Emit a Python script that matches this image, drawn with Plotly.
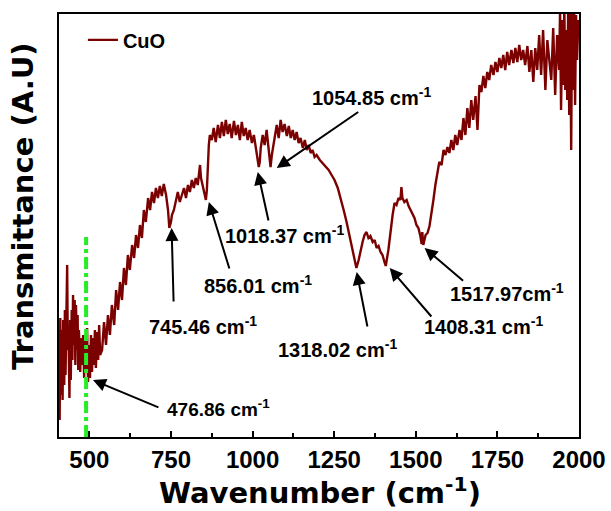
import plotly.graph_objects as go

# ---------------- data ----------------
wavenumber = [
    409, 411, 413, 416, 418, 420, 423, 425, 427, 429, 432, 434, 436, 439, 441, 443, 446, 448, 450, 453,
    455, 457, 459, 462, 464, 466, 468, 472, 475, 478, 481, 484, 487, 490, 493, 496, 499, 502, 505, 508,
    511, 514, 517, 520, 524, 527, 530, 533, 539, 545, 551, 557, 563, 569, 576, 582, 588, 594, 600, 606,
    612, 618, 624, 631, 637, 643, 649, 655, 661, 667, 673, 680, 686, 692, 698, 704, 710, 716, 722, 728,
    735, 741, 745, 750, 753, 759, 765, 771, 777, 783, 790, 796, 802, 808, 814, 820, 826, 832, 839, 842,
    848, 854, 857, 860, 863, 866, 869, 875, 881, 887, 894, 900, 906, 912, 918, 924, 930, 936, 943, 949,
    955, 961, 967, 973, 979, 985, 991, 998, 1004, 1010, 1016, 1019, 1022, 1025, 1031, 1037, 1043, 1050, 1055, 1059,
    1068, 1074, 1080, 1086, 1092, 1098, 1105, 1111, 1117, 1123, 1129, 1135, 1141, 1147, 1154, 1160, 1166, 1172, 1178, 1184,
    1190, 1196, 1206, 1215, 1224, 1233, 1242, 1251, 1261, 1270, 1279, 1288, 1297, 1306, 1313, 1318, 1325, 1331, 1337, 1343,
    1349, 1355, 1361, 1368, 1374, 1380, 1386, 1392, 1398, 1404, 1408, 1416, 1423, 1429, 1435, 1441, 1447, 1453, 1456, 1459,
    1465, 1472, 1478, 1484, 1490, 1496, 1502, 1508, 1514, 1518, 1520, 1523, 1530, 1536, 1542, 1548, 1554, 1560, 1566, 1572,
    1579, 1585, 1591, 1597, 1603, 1609, 1615, 1621, 1627, 1634, 1640, 1646, 1652, 1658, 1664, 1670, 1676, 1683, 1689, 1695,
    1701, 1707, 1713, 1719, 1725, 1731, 1738, 1744, 1750, 1756, 1762, 1768, 1774, 1780, 1786, 1793, 1799, 1805, 1811, 1817,
    1823, 1829, 1835, 1842, 1848, 1854, 1860, 1866, 1872, 1878, 1884, 1890, 1897, 1903, 1909, 1915, 1921, 1927, 1933, 1939,
    1942, 1945, 1949, 1952, 1955, 1958, 1961, 1964, 1967, 1970, 1973, 1976, 1979, 1982, 1985, 1988, 1991, 1994, 1998,
]
transmittance = [
    17, 119, 42, 107, 37, 117, 52, 127, 62, 137, 172, 87, 107, 39, 117, 57, 127, 77, 142, 92,
    137, 72, 132, 87, 122, 67, 107, 65, 99, 72, 102, 59, 97, 67, 109, 55, 92, 59, 102, 65,
    99, 72, 107, 69, 105, 77, 112, 82, 87, 115, 92, 122, 102, 132, 112, 147, 127, 155, 137, 169,
    152, 182, 167, 192, 179, 202, 189, 212, 199, 227, 215, 239, 227, 245, 234, 249, 239, 251, 241, 253,
    242, 227, 209, 215, 222, 227, 237, 245, 235, 242, 249, 239, 252, 245, 257, 249, 259, 252, 272, 259,
    249, 239, 237, 247, 272, 292, 302, 297, 309, 295, 312, 299, 315, 301, 317, 303, 313, 299, 316, 302,
    312, 297, 315, 301, 309, 297, 307, 294, 302, 287, 277, 270, 275, 289, 302, 292, 307, 287, 270, 282,
    302, 312, 299, 317, 305, 313, 301, 311, 299, 307, 297, 305, 294, 299, 289, 297, 287, 292, 284, 287,
    280, 282, 277, 274, 270, 267, 262, 257, 249, 239, 227, 215, 201, 187, 175, 169, 177, 187, 195, 202,
    205, 199, 201, 195, 197, 189, 191, 185, 182, 175, 171, 187, 207, 222, 234, 232, 239, 237, 250, 239,
    235, 237, 231, 227, 222, 219, 212, 209, 201, 193, 205, 192, 202, 204, 211, 222, 237, 252, 265, 275,
    272, 287, 282, 290, 284, 297, 287, 302, 292, 307, 297, 319, 302, 329, 309, 337, 317, 341, 307, 352,
    345, 361, 349, 365, 357, 372, 362, 375, 365, 379, 369, 382, 367, 385, 372, 387, 374, 389, 375, 392,
    377, 387, 372, 391, 365, 387, 355, 389, 367, 402, 362, 407, 347, 397, 377, 357, 409, 342, 402, 367,
    427, 327, 417, 352, 432, 347, 407, 337, 437, 322, 427, 287, 432, 347, 437, 332, 422, 377, 417,
]
series_name = "CuO"
x_tick_values = [500, 750, 1000, 1250, 1500, 1750, 2000]

peak_labels = ["1054.85", "1018.37", "856.01", "745.46", "476.86", "1318.02", "1408.31", "1517.97"]
peak_head_x = [1074, 1016, 866, 752, 511, 1319, 1420, 1527]
peak_head_y = [269, 265, 235, 209, 57, 165, 169, 189]

# ---------------- layout helpers ----------------
W, H = 611, 511
L, R, T, B = 59, 579, 14, 437          # plot-area edges in window pixels
X_RANGE = [407, 2000]
Y_RANGE = [0, 423]
FONT = "Liberation Sans, Arial, sans-serif"
TITLE_FONT = "DejaVu Sans, Liberation Sans, sans-serif"

def px_x(p):
    return (p - L) / (R - L)

def px_y(p):
    return (B - p) / (B - T)

# arrow tail offsets (pixels) and text placement (left x, middle y, window pixels)
arrow_offsets = [(83, -57), (11, 50), (21, 68), (2, 75), (67, 28), (11, 56), (43, 50), (40, 34)]
text_places = [(310, 97), (223, 234), (202, 284), (147, 325), (165, 408), (276, 348), (422, 325), (448, 292)]
text_sizes = [20, 20, 20, 20, 19, 20, 20, 20]

fig = go.Figure()
fig.add_trace(go.Scatter(
    x=wavenumber, y=transmittance, mode="lines", name=series_name,
    line=dict(color="#7b0000", width=2.4),
))

annotations = []
for i, lab in enumerate(peak_labels):
    ax, ay = arrow_offsets[i]
    annotations.append(dict(
        x=peak_head_x[i], y=peak_head_y[i], xref="x", yref="y",
        ax=ax, ay=ay, text="", showarrow=True,
        arrowhead=2, arrowsize=1.3, arrowwidth=2, arrowcolor="black",
    ))
    sep = "" if lab == "1517.97" else " "
    tx, ty = text_places[i]
    annotations.append(dict(
        x=px_x(tx), y=px_y(ty), xref="paper", yref="paper",
        xanchor="left", yanchor="middle", showarrow=False,
        text=f"{lab}{sep}cm<sup>-1</sup>",
        font=dict(family=FONT, size=text_sizes[i], color="black", weight="bold"),
    ))

annotations.append(dict(
    x=px_x(23), y=px_y(207), xref="paper", yref="paper",
    xanchor="center", yanchor="middle", showarrow=False, textangle=-90,
    text="Transmittance (A.U)",
    font=dict(family=TITLE_FONT, size=29, color="black", weight="bold"),
))
annotations.append(dict(
    x=px_x(320), y=px_y(491), xref="paper", yref="paper",
    xanchor="center", yanchor="middle", showarrow=False,
    text="Wavenumber (cm<sup>-1</sup>)",
    font=dict(family=TITLE_FONT, size=29, color="black", weight="bold"),
))

fig.add_shape(type="line", xref="x", yref="y", x0=490, x1=490, y0=0, y1=200,
              line=dict(color="#22ee22", width=4, dash="dashdot"))

fig.update_layout(
    width=W, height=H,
    margin=dict(l=L, r=W - R, t=T, b=H - B, autoexpand=False),
    paper_bgcolor="white", plot_bgcolor="white",
    showlegend=True,
    legend=dict(x=0.046, y=0.985, xanchor="left", yanchor="top",
                bgcolor="rgba(0,0,0,0)",
                font=dict(family=FONT, size=20, color="black", weight="bold")),
    annotations=annotations,
    xaxis=dict(
        range=X_RANGE, tickvals=x_tick_values, ticks="inside", ticklen=6, tickwidth=2,
        tickcolor="black", showline=True, linecolor="black", linewidth=2, mirror=True,
        showgrid=False, zeroline=False, automargin=False,
        tickfont=dict(family=FONT, size=24, color="black", weight="bold"),
        minor=dict(ticks="inside", ticklen=4, tickwidth=2, tickcolor="black",
                   tick0=375, dtick=125, showgrid=False),
    ),
    yaxis=dict(
        range=Y_RANGE, showticklabels=False, ticks="", showline=True, linecolor="black",
        linewidth=2, mirror=True, showgrid=False, zeroline=False, automargin=False,
    ),
)

# remove the browser's default 8 px body margin so the figure fills the window
fig.write_html("out.html",
               config={"displayModeBar": False},
               post_script="document.body.style.margin='0';document.body.style.padding='0';")
